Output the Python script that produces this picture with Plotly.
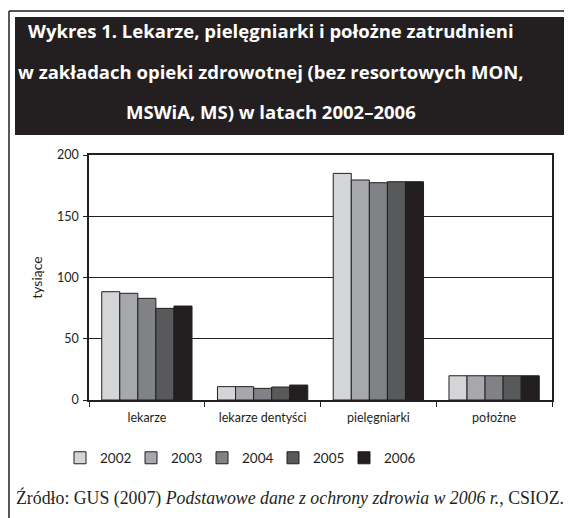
import plotly.graph_objects as go

categories = ["lekarze", "lekarze dentyści", "pielęgniarki", "położne"]
years = ["2002", "2003", "2004", "2005", "2006"]
values = {
    "2002": [88.4, 10.9, 185.0, 19.8],
    "2003": [87.1, 10.9, 179.6, 19.8],
    "2004": [83.0, 9.5, 177.4, 19.8],
    "2005": [74.8, 10.6, 178.2, 19.8],
    "2006": [76.7, 12.2, 178.2, 19.8],
}
colors = ["#d4d5d7", "#a6a8ab", "#808285", "#58595b", "#231f20"]
y_ticks = [0, 50, 100, 150, 200]

title_lines = [
    "Wykres 1. Lekarze, pielęgniarki i położne zatrudnieni",
    "w zakładach opieki zdrowotnej (bez resortowych MON,",
    "MSWiA, MS) w latach 2002–2006",
]
source = "Źródło: GUS (2007) <i>Podstawowe dane z ochrony zdrowia w 2006 r.</i>, CSIOZ."

W, H = 572, 518
OFF = 8  # page body margin
# plot area in screen pixels: x 89..552, y 155..400
L, T = 89 - OFF, 155 - OFF
R, B = W - (552 - OFF), H - (400 - OFF)
PW, PH = W - L - R, H - T - B

def px(x):
    return (x - OFF - L) / PW

def py(y):
    return (H - B - (y - OFF)) / PH

ink = "#231f20"

fig = go.Figure()
for yr, c in zip(years, colors):
    fig.add_trace(go.Bar(
        name=yr, x=categories, y=values[yr],
        marker=dict(color=c, line=dict(color=ink, width=1)),
    ))

fig.update_layout(
    width=W, height=H,
    margin=dict(l=L, r=R, t=T, b=B, autoexpand=False),
    paper_bgcolor="white", plot_bgcolor="white",
    barmode="group", bargap=0.22, bargroupgap=0,
    font=dict(family="Lato", size=12, color=ink),
    showlegend=True,
    legend=dict(
        orientation="h", xref="container", yref="container",
        x=(60 - OFF) / W, y=1 - (458 - OFF) / H, xanchor="left", yanchor="middle",
        font=dict(family="Lato", size=13.5, color=ink),
        itemwidth=30, entrywidth=26, entrywidthmode="pixels",
        bgcolor="rgba(0,0,0,0)", tracegroupgap=0,
    ),
    xaxis=dict(
        showline=True, linecolor=ink, linewidth=1.5, mirror=True,
        ticks="outside", tickson="boundaries", ticklen=5, tickcolor=ink,
        showgrid=False, tickfont=dict(size=12.5, color=ink),
        ticklabelstandoff=5,
    ),
    yaxis=dict(
        range=[0, 200], tickvals=y_ticks,
        showline=True, linecolor=ink, linewidth=1.5, mirror=True,
        ticks="outside", ticklen=4, tickcolor=ink,
        showgrid=True, gridcolor=ink, gridwidth=1,
        zeroline=False, tickfont=dict(size=12.5, color=ink),
        ticklabelstandoff=2,
        title=dict(text="tysiące", font=dict(size=14, color=ink), standoff=11),
    ),
    shapes=[
        dict(type="line", xref="paper", yref="paper",
             x0=px(9), x1=px(590), y0=py(11), y1=py(11),
             line=dict(color="#555555", width=2)),
        dict(type="line", xref="paper", yref="paper",
             x0=px(9), x1=px(9), y0=py(11), y1=py(530),
             line=dict(color=ink, width=1.5)),
        dict(type="rect", xref="paper", yref="paper",
             x0=px(15), x1=px(590), y0=py(17), y1=py(135),
             fillcolor=ink, line=dict(width=0), layer="below"),
    ],
)

annotations = []
for line, yc in zip(title_lines, [31, 72, 112]):
    annotations.append(dict(
        text=f"<b>{line}</b>", xref="paper", yref="paper",
        x=px(271), y=py(yc), xanchor="center", yanchor="middle",
        showarrow=False, font=dict(family="Open Sans", size=18.5, color="white"),
    ))
annotations.append(dict(
    text=source, xref="paper", yref="paper",
    x=px(14), y=py(498), xanchor="left", yanchor="middle",
    showarrow=False, font=dict(family="Liberation Serif", size=17.8, color=ink),
))
fig.update_layout(annotations=annotations)

fig.write_html("out.html")
